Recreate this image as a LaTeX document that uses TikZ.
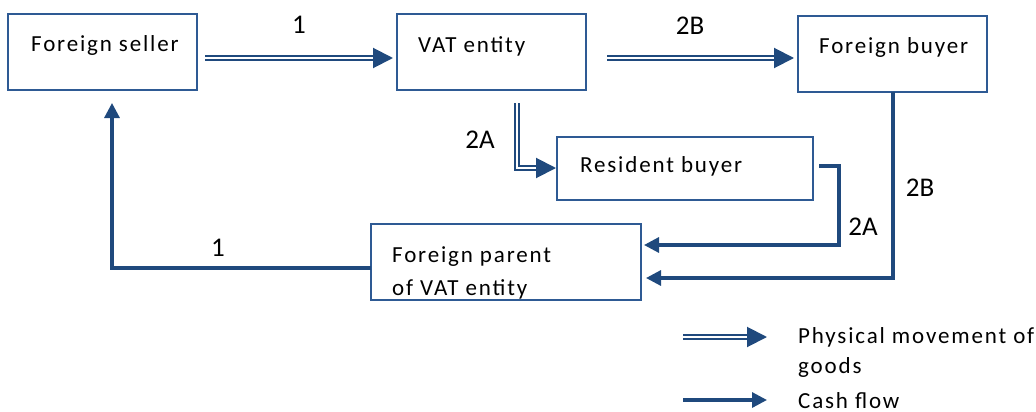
\documentclass[tikz,border=0pt]{standalone}
\usepackage{fontspec}
\setmainfont{Carlito}
\newfontfamily\spaced[LetterSpace=8]{Carlito}
\usetikzlibrary{arrows.meta}
\definecolor{bx}{HTML}{2E5A94}
\definecolor{ln}{HTML}{1F497D}
\tikzset{
  box/.style={draw=bx, line width=1.8pt, rectangle, inner sep=0pt, outer sep=0pt},
  txt/.style={anchor=base west, inner sep=0pt, font=\spaced\fontsize{23}{28}\selectfont},
  lbl/.style={anchor=center, inner sep=0pt, font=\fontsize{27}{31}\selectfont},
  goods/.style={draw=ln, line width=2pt, double=white, double distance=2pt,
    -{Triangle[length=20pt,width=20pt]}},
  cash/.style={draw=ln, line width=3.2pt, -{Triangle[length=15pt,width=15pt]}},
}
\begin{document}
\begin{tikzpicture}[x=1pt,y=-1pt]
\useasboundingbox (0,0) rectangle (1036,412);
% boxes
\node[box, minimum width=189pt, minimum height=76pt] (seller) at (102.5,52) {};
\node[box, minimum width=189pt, minimum height=76pt] (vat) at (491.5,52) {};
\node[box, minimum width=189pt, minimum height=76pt] (buyer) at (892.5,54) {};
\node[box, minimum width=256pt, minimum height=63pt] (resident) at (685,168.5) {};
\node[box, minimum width=270pt, minimum height=76pt] (parent) at (506,262) {};
% box texts
\node[txt] (tseller) at (31,52) {Foreign seller};
\node[txt] (tvat) at (418,53) {VAT entity};
\node[txt] (tbuyer) at (819,54) {Foreign buyer};
\node[txt] (tresident) at (580,172) {Resident buyer};
\node[txt] (tparent1) at (392,262) {Foreign parent};
\node[txt] (tparent2) at (392,295) {of VAT entity};
% connector coordinates
\coordinate (g1s) at (205,58);
\coordinate (g1e) at (393,58);
\coordinate (g2s) at (607,58);
\coordinate (g2e) at (794,58);
\coordinate (g3s) at (517,103);
\coordinate (g3m) at (517,168);
\coordinate (g3e) at (556,168);
\coordinate (c2as) at (819,166);
\coordinate (c2am) at (839,166);
\coordinate (c2an) at (839,245);
\coordinate (c2ae) at (644,245);
\coordinate (c2bm) at (893,278);
\coordinate (c2be) at (646,278);
\coordinate (c1m) at (112,268);
\coordinate (c1e) at (112,103);
% goods flows
\draw[goods] (g1s) -- (g1e);
\draw[goods] (g2s) -- (g2e);
\draw[goods] (g3s) -- (g3m) -- (g3e);
% cash flows
\draw[cash] (c2as) -- (c2am) -- (c2an) -- (c2ae);
\draw[cash] (buyer.south -| c2bm) -- (c2bm) -- (c2be);
\draw[cash] (parent.west |- c1m) -- (c1m) -- (c1e);
% labels
\node[lbl] (l1top) at (299,25) {1};
\node[lbl] (l2btop) at (690,26) {2B};
\node[lbl] (l2aleft) at (480,140) {2A};
\node[lbl] (l2aright) at (863,227) {2A};
\node[lbl] (l2bright) at (920,188) {2B};
\node[lbl] (l1bottom) at (218,248) {1};
% legend
\coordinate (lgs) at (683,337);
\coordinate (lge) at (767,337);
\coordinate (lcs) at (683,400);
\coordinate (lce) at (767,400);
\draw[goods] (lgs) -- (lge);
\draw[cash] (lcs) -- (lce);
\node[txt] (tleg1) at (798,343) {Physical movement of};
\node[txt] (tleg2) at (798,373) {goods};
\node[txt] (tleg3) at (798,408) {Cash flow};
\end{tikzpicture}
\end{document}
